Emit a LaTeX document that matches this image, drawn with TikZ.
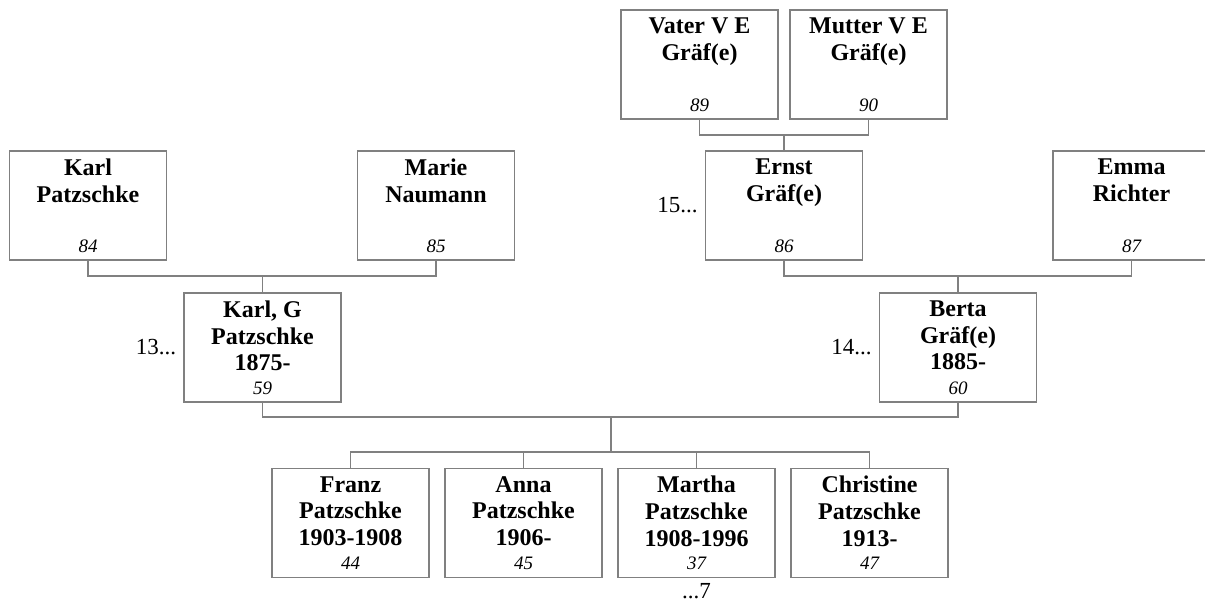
\documentclass[tikz,border=0pt]{standalone}
\usepackage{fontspec}
\setmainfont{Liberation Serif}
\usepackage{tikz}
\definecolor{linegray}{RGB}{128,128,128}

\begin{document}
\begin{tikzpicture}[x=0.5pt, y=-0.5pt,
        person/.style={draw=linegray, line width=0.6pt, minimum width=78.5pt, minimum height=54.5pt, inner sep=0pt},
        who/.style={anchor=north, align=center, inner sep=4pt, font=\fontsize{12}{13.3}\selectfont\bfseries},
        num/.style={anchor=south, inner sep=4pt, font=\fontsize{9.5}{11}\selectfont\itshape},
        more/.style={inner sep=0pt, font=\fontsize{11.5}{13}\selectfont},
        link/.style={draw=linegray, line width=0.6pt}]
        \useasboundingbox (0, 0) rectangle (1205, 604);

        \node (vater) at (699.5, 64.5) [person] {};
        \node (mutter) at (868.5, 64.5) [person] {};

        \node (karl) at (88, 205.5) [person] {};
        \node (marie) at (436, 205.5) [person] {};
        \node (ernst) at (784, 205.5) [person] {};
        \node (emma) at (1131.5, 205.5) [person] {};

        \node (karlg) at (262.5, 347.5) [person] {};
        \node (berta) at (958, 347.5) [person] {};

        \node (franz) at (350.5, 523) [person] {};
        \node (anna) at (523.5, 523) [person] {};
        \node (martha) at (696.5, 523) [person] {};
        \node (christine) at (869.5, 523) [person] {};

        % names and numbers
        \node (vater-w) at (vater.north) [who] {Vater V E\\Gräf(e)};
        \node (vater-n) at (vater.south) [num] {89};
        \node (mutter-w) at (mutter.north) [who] {Mutter V E\\Gräf(e)};
        \node (mutter-n) at (mutter.south) [num] {90};
        \node (karl-w) at (karl.north) [who] {Karl\\Patzschke};
        \node (karl-n) at (karl.south) [num] {84};
        \node (marie-w) at (marie.north) [who] {Marie\\Naumann};
        \node (marie-n) at (marie.south) [num] {85};
        \node (ernst-w) at (ernst.north) [who] {Ernst\\Gräf(e)};
        \node (ernst-n) at (ernst.south) [num] {86};
        \node (emma-w) at (emma.north) [who] {Emma\\Richter};
        \node (emma-n) at (emma.south) [num] {87};
        \node (karlg-w) at (karlg.north) [who] {Karl, G\\Patzschke\\1875-};
        \node (karlg-n) at (karlg.south) [num] {59};
        \node (berta-w) at (berta.north) [who] {Berta\\Gräf(e)\\1885-};
        \node (berta-n) at (berta.south) [num] {60};
        \node (franz-w) at (franz.north) [who] {Franz\\Patzschke\\1903-1908};
        \node (franz-n) at (franz.south) [num] {44};
        \node (anna-w) at (anna.north) [who] {Anna\\Patzschke\\1906-};
        \node (anna-n) at (anna.south) [num] {45};
        \node (martha-w) at (martha.north) [who] {Martha\\Patzschke\\1908-1996};
        \node (martha-n) at (martha.south) [num] {37};
        \node (christine-w) at (christine.north) [who] {Christine\\Patzschke\\1913-};
        \node (christine-n) at (christine.south) [num] {47};

        \node (karlg-m) at (karlg.west) [more, anchor=east, xshift=-3.5pt] {13...};
        \node (berta-m) at (berta.west) [more, anchor=east, xshift=-3.5pt] {14...};
        \node (ernst-m) at (ernst.west) [more, anchor=east, xshift=-3.5pt] {15...};
        \node (martha-m) at (martha.south) [more, anchor=north, yshift=-2.5pt] {...7};

        % family lines
        \coordinate (vm) at (784, 135);
        \coordinate (km) at (262.5, 276);
        \coordinate (ee) at (958, 276);
        \coordinate (kb) at (611, 417);
        \coordinate (kids) at (611, 452);

        \draw [link] (vater.south) |- (vm) -| (mutter.south);
        \draw [link] (vm) -- (ernst.north);
        \draw [link] (karl.south) |- (km) -| (marie.south);
        \draw [link] (km) -- (karlg.north);
        \draw [link] (ernst.south) |- (ee) -| (emma.south);
        \draw [link] (ee) -- (berta.north);
        \draw [link] (karlg.south) |- (kb) -| (berta.south);
        \draw [link] (kb) -- (kids);
        \draw [link] (franz.north) |- (kids) -| (christine.north);
        \foreach \c in {anna, martha}
            {\draw [link] (\c.north) -- (\c.north |- kids);}
    \end{tikzpicture}
\end{document}
